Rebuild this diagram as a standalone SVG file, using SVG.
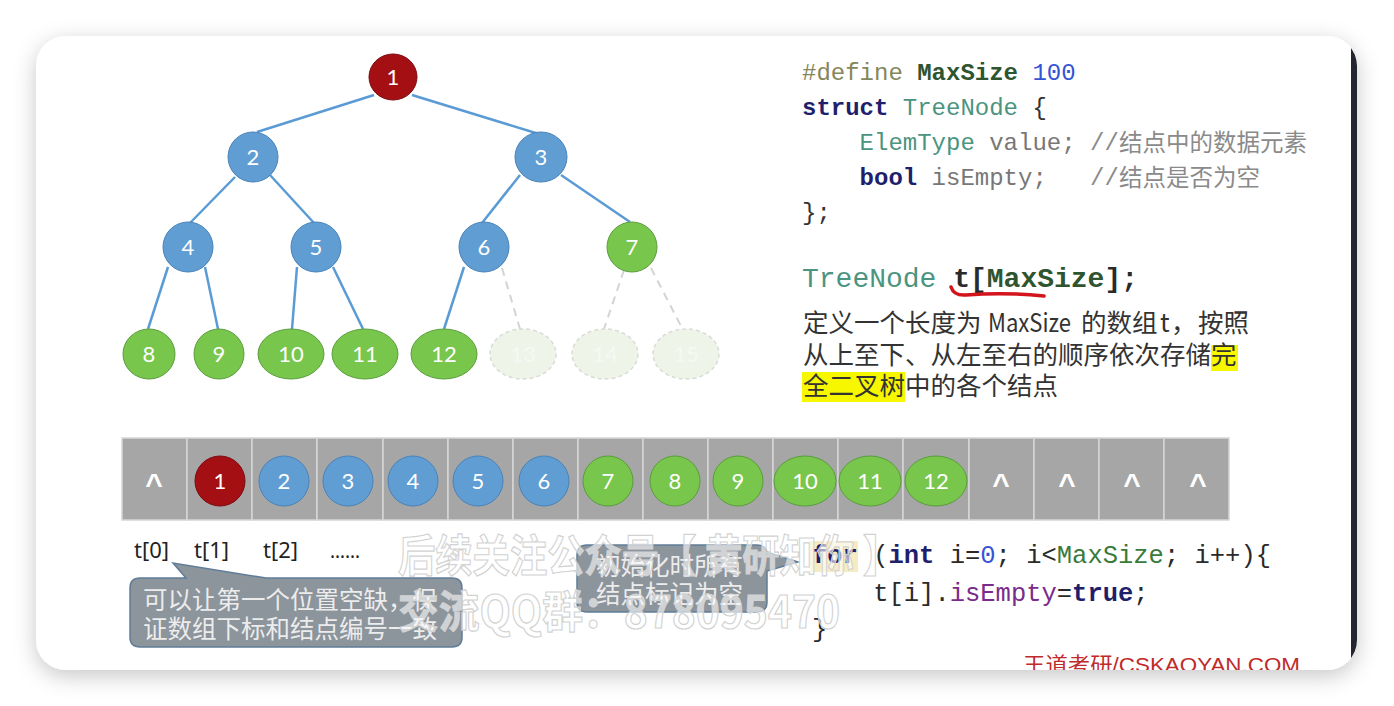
<svg xmlns="http://www.w3.org/2000/svg" width="1394" height="706" viewBox="0 0 1394 706">
  <defs>
    <filter id="cardShadow" x="-10%" y="-10%" width="120%" height="130%">
      <feGaussianBlur in="SourceAlpha" stdDeviation="11"/>
      <feOffset dy="6" result="b"/>
      <feFlood flood-color="#000" flood-opacity="0.22"/>
      <feComposite in2="b" operator="in"/>
      <feMerge><feMergeNode/><feMergeNode in="SourceGraphic"/></feMerge>
    </filter>
    <clipPath id="cardClip">
      <rect x="36" y="36" width="1321" height="634" rx="30"/>
    </clipPath>
    <style>
      .edge { stroke: #5b9bd5; stroke-width: 2.5; fill: none; }
      .edge-empty { stroke: #d4d4d4; stroke-width: 2; stroke-dasharray: 8 6; fill: none; }
      .red { fill: #a30f12; stroke: #7d0a10; stroke-width: 1; }
      .blue { fill: #5f9dd3; stroke: #4a82b8; stroke-width: 1; }
      .green { fill: #78c64c; stroke: #5a9d3c; stroke-width: 1; }
      .empty { fill: #eef4e8; stroke: #d9dcd6; stroke-width: 1.5; stroke-dasharray: 4 3; }
      .num { font-family: Lato, "Open Sans", sans-serif; font-size: 22px; fill: #ffffff; text-anchor: middle; }
      .num-empty { font-family: Lato, "Open Sans", sans-serif; font-size: 22px; fill: #f6f9f2; text-anchor: middle; }
      .cell { fill: #a6a6a6; stroke: #d6d6d6; stroke-width: 1.5; }
      .caret { font-family: "Liberation Sans", Arial, sans-serif; font-weight: bold; font-size: 30px; fill: #ffffff; text-anchor: middle; }
      .code { font-family: "Liberation Mono", "DejaVu Sans Mono", monospace; font-size: 24px; fill: #333333; }
      .code2 { font-family: "Liberation Mono", "DejaVu Sans Mono", monospace; font-size: 25.5px; fill: #2a2a2a; }
      .kw { font-weight: bold; fill: #1f1f6b; }
      .type { fill: #4b9480; }
      .macro { fill: #85865a; }
      .const { font-weight: bold; fill: #2f5530; }
      .numlit { fill: #3553d6; }
      .field { fill: #777777; }
      .cmt { fill: #8a8a8a; }
      .cjkcmt { font-family: "Noto Sans CJK SC", sans-serif; font-size: 23.5px; fill: #8a8a8a; }
      .para { font-family: "Noto Sans CJK SC", "Noto Sans", sans-serif; font-size: 25.5px; fill: #333333; }
      .idx { font-family: "Noto Sans", "Noto Sans CJK SC", sans-serif; font-size: 22px; fill: #222222; }
      .bubble { fill: #8c949c; stroke: #5f7d98; stroke-width: 1.5; }
      .bubble-text { font-family: "Noto Sans CJK SC", sans-serif; font-size: 24.5px; fill: #ececec; }
      .mark { font-family: "Noto Sans CJK SC", sans-serif; font-weight: bold; font-size: 44px; fill: #ffffff; fill-opacity: 0.6; stroke: #d2d2d2; stroke-width: 1.2; }
    </style>
  </defs>

  <rect width="1394" height="706" fill="#ffffff"/>

  <!-- card -->
  <rect x="36" y="36" width="1321" height="634" rx="30" fill="#ffffff" filter="url(#cardShadow)"/>

  <g clip-path="url(#cardClip)">
    <!-- dark strip along the right edge -->
    <rect x="1351" y="36" width="8" height="634" fill="#23262e"/>

    <!-- tree edges -->
    <g id="connectors">
      <line class="edge" x1="374" y1="95" x2="257" y2="132"/>
      <line class="edge" x1="412" y1="95" x2="539" y2="134"/>
      <line class="edge" x1="235" y1="177" x2="190" y2="223"/>
      <line class="edge" x1="270" y1="175" x2="314" y2="223"/>
      <line class="edge" x1="520" y1="175" x2="482" y2="223"/>
      <line class="edge" x1="561" y1="175" x2="630" y2="222"/>
      <line class="edge" x1="168" y1="267" x2="148" y2="329"/>
      <line class="edge" x1="205" y1="267" x2="218" y2="329"/>
      <line class="edge" x1="297" y1="267" x2="292" y2="329"/>
      <line class="edge" x1="333" y1="267" x2="363" y2="329"/>
      <line class="edge" x1="464" y1="267" x2="444" y2="329"/>
      <line class="edge-empty" x1="502" y1="268" x2="520" y2="329"/>
      <line class="edge-empty" x1="624" y1="270" x2="604" y2="329"/>
      <line class="edge-empty" x1="651" y1="268" x2="682" y2="328"/>
    </g>

    <!-- tree nodes -->
    <g id="node-1"><ellipse class="red" cx="393" cy="77" rx="24" ry="23"/><text class="num" x="393" y="85">1</text></g>
    <g id="node-2"><ellipse class="blue" cx="253" cy="157" rx="25" ry="25"/><text class="num" x="253" y="165">2</text></g>
    <g id="node-3"><ellipse class="blue" cx="541" cy="157" rx="26" ry="25"/><text class="num" x="541" y="165">3</text></g>
    <g id="node-4"><ellipse class="blue" cx="188" cy="247" rx="25" ry="25"/><text class="num" x="188" y="255">4</text></g>
    <g id="node-5"><ellipse class="blue" cx="316" cy="247" rx="25" ry="25"/><text class="num" x="316" y="255">5</text></g>
    <g id="node-6"><ellipse class="blue" cx="484" cy="247" rx="25" ry="25"/><text class="num" x="484" y="255">6</text></g>
    <g id="node-7"><ellipse class="green" cx="632" cy="247" rx="25" ry="25"/><text class="num" x="632" y="255">7</text></g>
    <g id="node-8"><ellipse class="green" cx="149" cy="354" rx="26" ry="25"/><text class="num" x="149" y="362">8</text></g>
    <g id="node-9"><ellipse class="green" cx="219" cy="354" rx="25" ry="25"/><text class="num" x="219" y="362">9</text></g>
    <g id="node-10"><ellipse class="green" cx="291" cy="354" rx="33" ry="25"/><text class="num" x="291" y="362">10</text></g>
    <g id="node-11"><ellipse class="green" cx="365" cy="354" rx="33" ry="25"/><text class="num" x="365" y="362">11</text></g>
    <g id="node-12"><ellipse class="green" cx="444" cy="354" rx="33" ry="25"/><text class="num" x="444" y="362">12</text></g>
    <g id="node-13"><ellipse class="empty" cx="523" cy="354" rx="33" ry="25"/><text class="num-empty" x="523" y="362">13</text></g>
    <g id="node-14"><ellipse class="empty" cx="605" cy="354" rx="33" ry="25"/><text class="num-empty" x="605" y="362">14</text></g>
    <g id="node-15"><ellipse class="empty" cx="686" cy="354" rx="33" ry="25"/><text class="num-empty" x="686" y="362">15</text></g>

    <!-- struct definition -->
    <g id="code-struct">
      <text class="code" y="80"><tspan class="macro" x="802">#define</tspan><tspan class="const" x="917.2">MaxSize</tspan><tspan class="numlit" x="1032.4">100</tspan></text>
      <text class="code" y="115"><tspan class="kw" x="802">struct</tspan><tspan class="type" x="902.8">TreeNode</tspan><tspan x="1032.4">{</tspan></text>
      <text class="code" y="150"><tspan class="type" x="859.6">ElemType</tspan><tspan class="field" x="989.2">value;</tspan><tspan class="cmt" x="1090">//</tspan></text>
      <text class="cjkcmt" x="1119" y="151">结点中的数据元素</text>
      <text class="code" y="185"><tspan class="kw" x="859.6">bool</tspan><tspan class="field" x="931.6">isEmpty;</tspan><tspan class="cmt" x="1090">//</tspan></text>
      <text class="cjkcmt" x="1119" y="186">结点是否为空</text>
      <text class="code" x="802" y="220">};</text>
    </g>

    <!-- array declaration -->
    <g id="code-array">
      <text class="code" style="font-size:28px" y="287"><tspan class="type" x="802">TreeNode</tspan><tspan x="953.2" font-weight="bold" fill="#2a2a2a">t[</tspan><tspan class="const" x="986.8">MaxSize</tspan><tspan x="1104.4" font-weight="bold" fill="#2a2a2a">];</tspan></text>
      <path d="M951,287 Q954,296 966,295 Q1005,292 1044,296" fill="none" stroke="#d4141c" stroke-width="3.5" stroke-linecap="round"/>
    </g>

    <!-- description -->
    <g id="description">
      <rect x="1211" y="345" width="27" height="26" fill="#f7f700"/>
      <rect x="802" y="372" width="103" height="30" fill="#f7f700"/>
      <text class="para" y="332"><tspan x="803">定义一个长度为</tspan><tspan x="988" textLength="83" lengthAdjust="spacingAndGlyphs">MaxSize</tspan><tspan x="1081">的数组</tspan><tspan x="1160">t</tspan><tspan x="1171">，</tspan><tspan x="1198">按照</tspan></text>
      <text class="para" x="803" y="364">从上至下、从左至右的顺序依次存储完</text>
      <text class="para" x="803" y="395">全二叉树中的各个结点</text>
    </g>

    <!-- sequential storage array -->
    <g id="array">
      <rect class="cell" x="122" y="438" width="65" height="82"/>
      <rect class="cell" x="187" y="438" width="65" height="82"/>
      <rect class="cell" x="252" y="438" width="65" height="82"/>
      <rect class="cell" x="317" y="438" width="66" height="82"/>
      <rect class="cell" x="383" y="438" width="65" height="82"/>
      <rect class="cell" x="448" y="438" width="65" height="82"/>
      <rect class="cell" x="513" y="438" width="65" height="82"/>
      <rect class="cell" x="578" y="438" width="65" height="82"/>
      <rect class="cell" x="643" y="438" width="65" height="82"/>
      <rect class="cell" x="708" y="438" width="65" height="82"/>
      <rect class="cell" x="773" y="438" width="65" height="82"/>
      <rect class="cell" x="838" y="438" width="65" height="82"/>
      <rect class="cell" x="903" y="438" width="66" height="82"/>
      <rect class="cell" x="969" y="438" width="65" height="82"/>
      <rect class="cell" x="1034" y="438" width="65" height="82"/>
      <rect class="cell" x="1099" y="438" width="65" height="82"/>
      <rect class="cell" x="1164" y="438" width="65" height="82"/>
    </g>
    <g id="slot-0"><text class="caret" x="154" y="494">^</text></g>
    <g id="slot-1"><ellipse class="red" cx="220" cy="481" rx="25" ry="25"/><text class="num" x="220" y="489">1</text></g>
    <g id="slot-2"><ellipse class="blue" cx="284" cy="481" rx="25" ry="25"/><text class="num" x="284" y="489">2</text></g>
    <g id="slot-3"><ellipse class="blue" cx="348" cy="481" rx="25" ry="25"/><text class="num" x="348" y="489">3</text></g>
    <g id="slot-4"><ellipse class="blue" cx="413" cy="481" rx="25" ry="25"/><text class="num" x="413" y="489">4</text></g>
    <g id="slot-5"><ellipse class="blue" cx="478" cy="481" rx="25" ry="25"/><text class="num" x="478" y="489">5</text></g>
    <g id="slot-6"><ellipse class="blue" cx="544" cy="481" rx="25" ry="25"/><text class="num" x="544" y="489">6</text></g>
    <g id="slot-7"><ellipse class="green" cx="608" cy="481" rx="25" ry="25"/><text class="num" x="608" y="489">7</text></g>
    <g id="slot-8"><ellipse class="green" cx="675" cy="481" rx="25" ry="25"/><text class="num" x="675" y="489">8</text></g>
    <g id="slot-9"><ellipse class="green" cx="738" cy="481" rx="25" ry="25"/><text class="num" x="738" y="489">9</text></g>
    <g id="slot-10"><ellipse class="green" cx="805" cy="481" rx="31" ry="25"/><text class="num" x="805" y="489">10</text></g>
    <g id="slot-11"><ellipse class="green" cx="870" cy="481" rx="31" ry="25"/><text class="num" x="870" y="489">11</text></g>
    <g id="slot-12"><ellipse class="green" cx="936" cy="481" rx="31" ry="25"/><text class="num" x="936" y="489">12</text></g>
    <g id="slot-13"><text class="caret" x="1001" y="494">^</text></g>
    <g id="slot-14"><text class="caret" x="1067" y="494">^</text></g>
    <g id="slot-15"><text class="caret" x="1132" y="494">^</text></g>
    <g id="slot-16"><text class="caret" x="1198" y="494">^</text></g>

    <!-- index labels -->
    <g id="index-labels">
      <text class="idx" x="134" y="558">t[0]</text>
      <text class="idx" x="194" y="558">t[1]</text>
      <text class="idx" x="263" y="558">t[2]</text>
      <text class="idx" x="330" y="558" style="font-size:19px">……</text>
    </g>

    <!-- init loop -->
    <g id="code-init">
      <rect x="810" y="541" width="48" height="31" fill="#f4e7b4" fill-opacity="0.8"/>
      <text class="code2" y="563"><tspan class="kw" x="812">for</tspan><tspan x="873.2">(</tspan><tspan class="kw" x="888.5">int</tspan><tspan x="949.7">i=</tspan><tspan class="numlit" x="980.3">0</tspan><tspan x="995.6">;</tspan><tspan x="1026.2">i&lt;</tspan><tspan x="1056.8" fill="#3a7a3a">MaxSize</tspan><tspan x="1163.9">;</tspan><tspan x="1194.5">i++){</tspan></text>
      <text class="code2" y="601"><tspan x="873.2">t[i].</tspan><tspan x="949.7" fill="#7a2c8c">isEmpty</tspan><tspan x="1056.8">=</tspan><tspan class="kw" x="1072.1">true</tspan><tspan x="1133.3">;</tspan></text>
      <text class="code2" x="812" y="637">}</text>
    </g>

    <!-- callout: empty first slot -->
    <g id="callout-slot0">
      <path class="bubble" d="M140,578 L186,578 L173,563 L266,578 L452,578 Q462,578 462,588 L462,637 Q462,647 452,647 L140,647 Q130,647 130,637 L130,588 Q130,578 140,578 Z"/>
      <text class="bubble-text" x="143" y="609">可以让第一个位置空缺，保</text>
      <text class="bubble-text" x="143" y="638">证数组下标和结点编号一致</text>
    </g>

    <!-- callout: initialization -->
    <g id="callout-init">
      <path class="bubble" d="M587,545 L757,545 Q767,545 767,555 L767,552 L798,562 L767,571 L767,602 Q767,612 757,612 L587,612 Q577,612 577,602 L577,555 Q577,545 587,545 Z"/>
      <text class="bubble-text" x="596" y="575">初始化时所有</text>
      <text class="bubble-text" x="596" y="603">结点标记为空</text>
    </g>

    <!-- overlay lettering -->
    <g id="overlay-text">
      <text class="mark" x="398" y="572" textLength="502" lengthAdjust="spacingAndGlyphs">后续关注公众号【 黄研知你 】</text>
      <text class="mark" x="398" y="628" textLength="442" lengthAdjust="spacingAndGlyphs">交流QQ群：878095470</text>
    </g>

    <!-- footer -->
    <text x="1023" y="672" font-family="Liberation Sans, Arial, Noto Sans CJK SC, sans-serif" font-size="21" fill="#bf2b2b" textLength="277" lengthAdjust="spacingAndGlyphs">王道考研/CSKAOYAN.COM</text>
  </g>
</svg>
